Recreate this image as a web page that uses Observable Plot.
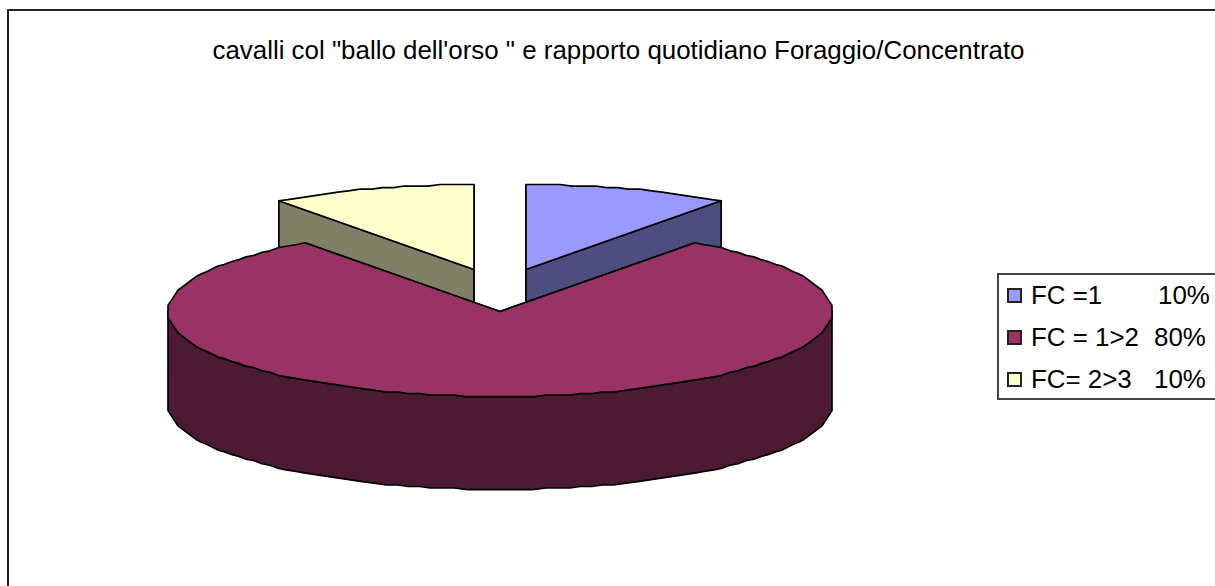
<!DOCTYPE html>
<html>
<head>
<meta charset="utf-8">
<script src="https://cdn.jsdelivr.net/npm/d3@7"></script>
<script src="https://cdn.jsdelivr.net/npm/@observablehq/plot@0.6"></script>
<style>
html,body{margin:0;padding:0;background:#fff;overflow:hidden}
#page{position:relative;width:1215px;height:586px;overflow:hidden;font-family:"Liberation Sans",Arial,sans-serif;color:#000}
#frame{position:absolute;left:7px;top:9px;width:1300px;height:700px;border:2px solid #222;box-sizing:border-box}
#title{position:absolute;left:0;width:1237px;top:35px;text-align:center;font-size:25.9px;line-height:30px;white-space:pre}
#legend{position:absolute;left:997px;top:273px;width:300px;height:127px;border:2px solid #444;box-sizing:border-box}
.row{position:absolute;left:0;height:30px;line-height:30px;font-size:25.9px;white-space:pre}
.sw{position:absolute;left:8px;top:8px;width:15px;height:15px;border:2px solid #222;box-sizing:border-box}
.lb{position:absolute;left:32px;top:0}
.pc{position:absolute;top:0}
#chart{position:absolute;left:0;top:0}
</style>
</head>
<body>
<div id="page">
  <div id="frame"></div>
  <div id="chart"></div>
  <div id="title"></div>
  <div id="legend"></div>
</div>
<script>
const titleText = "cavalli col \"ballo dell'orso \" e rapporto quotidiano Foraggio/Concentrato";
const labels = ["FC =1", "FC = 1>2", "FC= 2>3"];
const shares = [10, 80, 10];
const topColors = ["#9999FF", "#993366", "#FFFFCC"];
const sideColors = ["#4D4D80", "#4D1A33", "#808066"];

// pie geometry in unit-ellipse coordinates (the x and y scales map these to the page)
const explode = 0.2534;
const depth = 1.094;
const step = 2;
const gridX = 166, gridY = 56; // the source's coarse drawing grid, which gives the rim its slight wobble
const total = d3.sum(shares);

function rim(center, deg, drop = 0) {
  const a = deg * Math.PI / 180;
  return {x: center.x + Math.sin(a), y: center.y + Math.cos(a) - drop};
}
function snapped(center, deg, drop = 0) {
  const a = deg * Math.PI / 180;
  return {
    x: center.x + Math.round(Math.sin(a) * gridX) / gridX,
    y: center.y + Math.round(Math.cos(a) * gridY) / gridY - drop
  };
}
function arc(center, a0, a1, drop = 0) {
  const n = Math.max(1, Math.round(Math.abs(a1 - a0) / step));
  return d3.range(n + 1).map(i => {
    const deg = a0 + (a1 - a0) * i / n;
    return i === 0 || i === n ? rim(center, deg, drop) : snapped(center, deg, drop);
  });
}
function slices() {
  let acc = 0;
  return shares.map((v, i) => {
    const a0 = acc / total * 360; acc += v;
    const a1 = acc / total * 360;
    const mid = (a0 + a1) / 2 * Math.PI / 180;
    return {i, a0, a1, center: {x: explode * Math.sin(mid), y: explode * Math.cos(mid)}};
  });
}
function faces(s) {
  const c = s.center, side = sideColors[s.i];
  const low = {x: c.x, y: c.y - depth};
  const out = [];
  for (const a of [s.a0, s.a1]) {
    out.push({fill: side, pts: [c, rim(c, a), rim(c, a, depth), low]});
  }
  const w0 = Math.max(s.a0, 90), w1 = Math.min(s.a1, 270);
  if (w1 > w0) out.push({fill: side, pts: [...arc(c, w0, w1), ...arc(c, w1, w0, depth)]});
  out.push({fill: topColors[s.i], pts: [c, ...arc(c, s.a0, s.a1)]});
  return out;
}

// back slices first, the big front slice last
const all = slices().sort((a, b) => (a.a1 - a.a0) - (b.a1 - b.a0)).flatMap(faces);

const plot = Plot.plot({
  width: 1215, height: 586,
  margin: 0,
  style: {background: "transparent", overflow: "visible"},
  x: {domain: [-1, 1], range: [167.5, 831.5], axis: null},
  y: {domain: [-1, 1], range: [374.5, 204.5], axis: null},
  marks: all.map(f => Plot.line(f.pts, {
    x: "x", y: "y", fill: f.fill, stroke: "#000", strokeWidth: 1.7, curve: "linear-closed"
  }))
});
document.getElementById("chart").append(plot);

document.getElementById("title").textContent = titleText;
const legend = document.getElementById("legend");
const rowTops = [5, 47, 89], pcLeft = [159, 155, 155];
labels.forEach((l, i) => {
  const r = document.createElement("div");
  r.className = "row"; r.style.top = rowTops[i] + "px"; r.style.width = "290px";
  r.innerHTML = `<span class="sw" style="background:${topColors[i]}"></span><span class="lb"></span><span class="pc" style="left:${pcLeft[i]}px"></span>`;
  r.querySelector(".lb").textContent = l;
  r.querySelector(".pc").textContent = Math.round(shares[i] / total * 100) + "%";
  legend.append(r);
});
</script>
</body>
</html>
